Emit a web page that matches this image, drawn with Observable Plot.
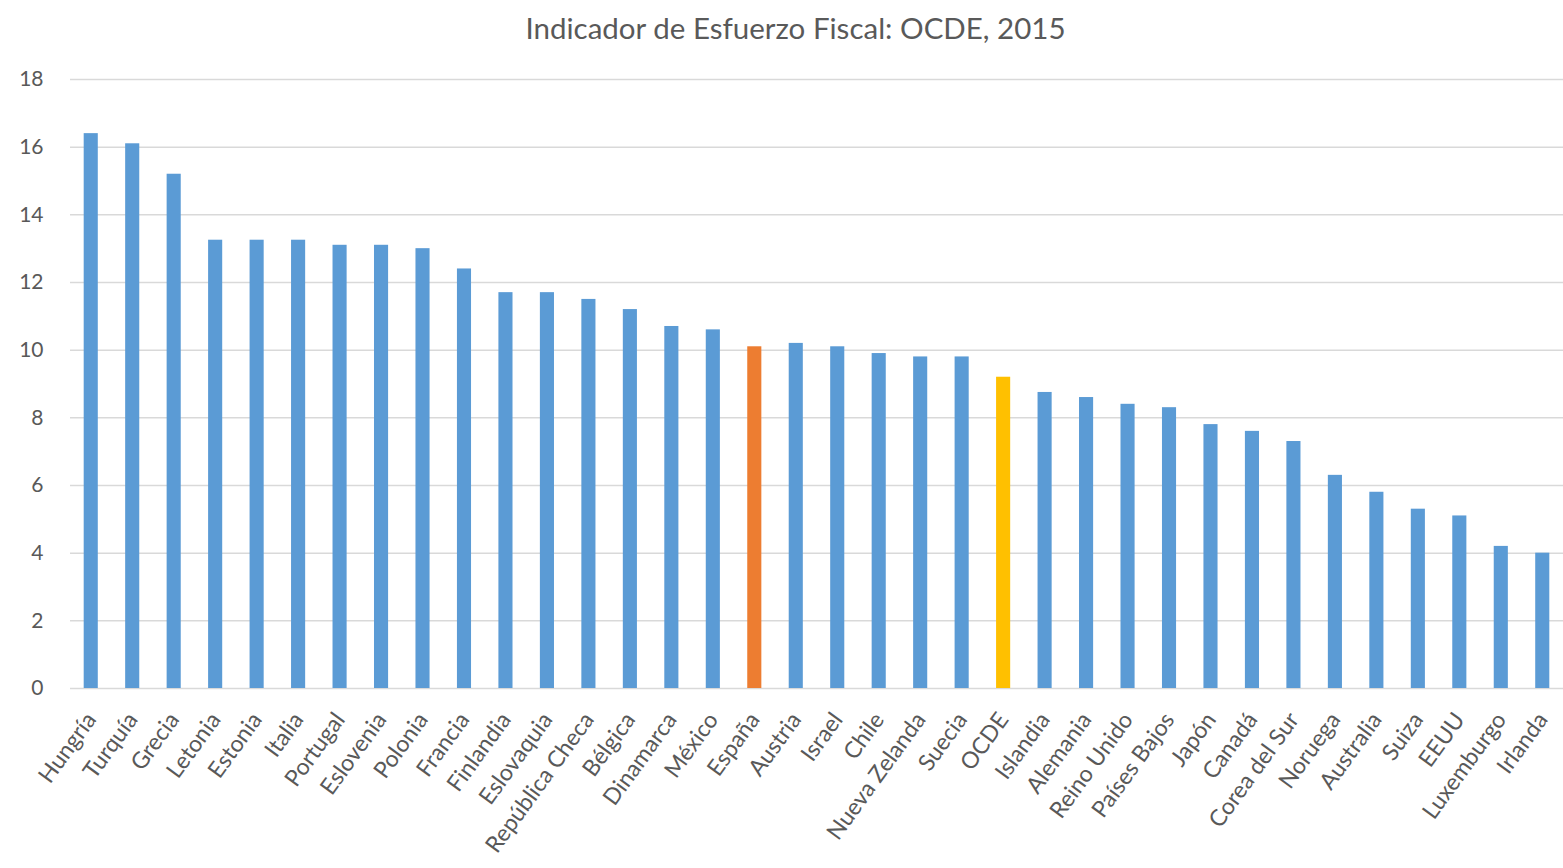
<!DOCTYPE html>
<html>
<head>
<meta charset="utf-8">
<script src="https://cdn.jsdelivr.net/npm/d3@7"></script>
<script src="https://cdn.jsdelivr.net/npm/@observablehq/plot@0.6"></script>
<style>
  body { margin: 0; background: #fff; font-family: Lato, "Open Sans", sans-serif; }
  #title { height: 55px; line-height: 55px; text-align: center; font-size: 29.5px; color: #595959; width: 1535px; padding-left: 28px; }
  #chart svg { display: block; }
</style>
</head>
<body>
<div id="title">Indicador de Esfuerzo Fiscal: OCDE, 2015</div>
<div id="chart"></div>
<script>
const countries = ["Hungría","Turquía","Grecia","Letonia","Estonia","Italia","Portugal","Eslovenia","Polonia","Francia","Finlandia","Eslovaquia","República Checa","Bélgica","Dinamarca","México","España","Austria","Israel","Chile","Nueva Zelanda","Suecia","OCDE","Islandia","Alemania","Reino Unido","Países Bajos","Japón","Canadá","Corea del Sur","Noruega","Australia","Suiza","EEUU","Luxemburgo","Irlanda"];
const values = [16.4,16.1,15.2,13.25,13.25,13.25,13.1,13.1,13.0,12.4,11.7,11.7,11.5,11.2,10.7,10.6,10.1,10.2,10.1,9.9,9.8,9.8,9.2,8.75,8.6,8.4,8.3,7.8,7.6,7.3,6.3,5.8,5.3,5.1,4.2,4.0];
const yTicks = [0,2,4,6,8,10,12,14,16,18];
const groups = countries.map(c => c === "España" ? "España" : c === "OCDE" ? "OCDE" : "Otros");

const data = countries.map((c, i) => ({country: c, value: values[i], group: groups[i]}));

const chart = Plot.plot({
  width: 1563,
  height: 813,
  marginTop: 24,
  marginBottom: 180,
  marginLeft: 70,
  marginRight: 0,
  style: {fontFamily: "Lato, 'Open Sans', sans-serif", color: "#595959", background: "#fff"},
  x: {domain: countries, paddingInner: 0.66, paddingOuter: 0.33, align: 0.5, round: false, label: null},
  y: {domain: [0, 18], ticks: yTicks, label: null},
  color: {domain: ["Otros", "España", "OCDE"], range: ["#5b9bd5", "#ed7d31", "#ffc000"]},
  marks: [
    Plot.gridY(yTicks, {stroke: "#d9d9d9", strokeOpacity: 1, strokeWidth: 1.5}),
    Plot.barY(data, {x: "country", y: "value", fill: "group"}),
    Plot.axisY(yTicks, {tickSize: 0, tickPadding: 27, fontSize: 21, fill: "#595959"}),
    Plot.axisX({tickSize: 0, tickPadding: 27, tickRotate: -54, fontSize: 23, fill: "#595959"})
  ]
});
document.getElementById("chart").appendChild(chart);
</script>
</body>
</html>
